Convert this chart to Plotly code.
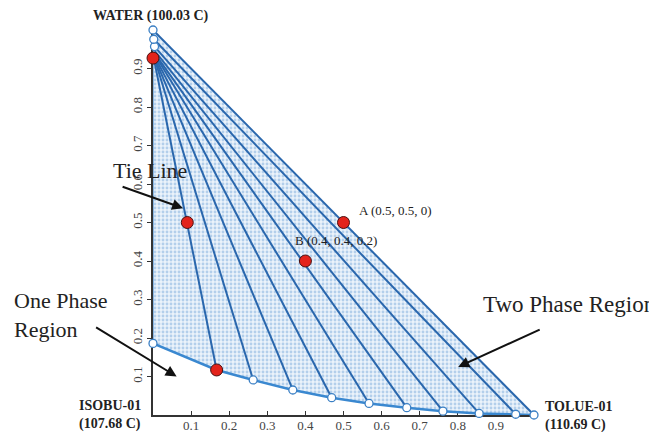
import plotly.graph_objects as go

# Organic-phase (toluene-rich) branch of the binodal curve, left to right
org_x = [0.0, 0.167, 0.263, 0.367, 0.469, 0.567, 0.666, 0.761, 0.856, 0.952, 1.0]
org_y = [0.186, 0.117, 0.091, 0.065, 0.045, 0.030, 0.019, 0.010, 0.004, 0.002, 0.0]

# Aqueous-phase (water-rich) ends of the tie lines, paired with org points 1..10
aq_x = [0.002, 0.003, 0.003, 0.003, 0.004, 0.004, 0.005, 0.004, 0.002, 0.0]
aq_y = [0.927, 0.929, 0.931, 0.934, 0.937, 0.940, 0.945, 0.957, 0.976, 1.0]

# Highlighted (red) points
red_x = [0.0, 0.09, 0.167, 0.5, 0.4]
red_y = [0.927, 0.50, 0.117, 0.5, 0.4]

tick_vals = [0.1, 0.2, 0.3, 0.4, 0.5, 0.6, 0.7, 0.8, 0.9]
tick_text = ["0.1", "0.2", "0.3", "0.4", "0.5", "0.6", "0.7", "0.8", "0.9"]

SERIF = "Liberation Serif"
fig = go.Figure()

# two-phase region fill
poly_x = org_x + [0.0, 0.0]
poly_y = org_y + [1.0, org_y[0]]
fig.add_trace(go.Scatter(
    x=poly_x, y=poly_y, mode="lines", fill="toself",
    fillcolor="#e6f0fa",
    fillpattern=dict(shape=".", fgcolor="#b3cfeb", bgcolor="#ebf3fb", size=4, solidity=0.4),
    line=dict(width=0), hoverinfo="skip", showlegend=False))

# y-axis boundary segment (light blue)
fig.add_trace(go.Scatter(x=[0.0, 0.0], y=[org_y[0], 1.0], mode="lines",
                         line=dict(color="#6fa6dc", width=1.5), showlegend=False, cliponaxis=False))

# tie lines
tx, ty = [], []
for i in range(len(aq_x)):
    tx += [aq_x[i], org_x[i + 1], None]
    ty += [aq_y[i], org_y[i + 1], None]
fig.add_trace(go.Scatter(x=tx, y=ty, mode="lines", line=dict(color="#2a67ad", width=2),
                         showlegend=False, cliponaxis=False))

# binodal organic branch
fig.add_trace(go.Scatter(x=org_x, y=org_y, mode="lines", line=dict(color="#3a88d0", width=2.5),
                         showlegend=False, cliponaxis=False))

# open circles
cx = [org_x[0]] + org_x[2:] + aq_x[-3:]
cy = [org_y[0]] + org_y[2:] + aq_y[-3:]
fig.add_trace(go.Scatter(x=cx, y=cy, mode="markers",
                         marker=dict(size=8, color="white", line=dict(color="#3a7fc4", width=1.3)),
                         showlegend=False, cliponaxis=False))

# red points
fig.add_trace(go.Scatter(x=red_x, y=red_y, mode="markers",
                         marker=dict(size=12, color="#e3231b", line=dict(color="#4a1010", width=1)),
                         showlegend=False, cliponaxis=False))

ann = []
def txt(x, y, text, size, bold=False, xanchor="left", align="left"):
    ann.append(dict(x=x, y=y, xref="paper", yref="paper", text=("<b>%s</b>" % text) if bold else text,
                    showarrow=False, xanchor=xanchor, yanchor="middle", align=align,
                    font=dict(family=SERIF, size=size, color="#222")))

txt(-0.004, 1.036, "WATER (100.03 C)", 14, bold=True, xanchor="center", align="center")
txt(-0.199, 0.0, "ISOBU-01<br>(107.68 C)", 14, bold=True)
txt(1.024, -0.003, "TOLUE-01<br>(110.69 C)", 14, bold=True)
txt(-0.008, 0.636, "Tie Line", 22, xanchor="center", align="center")
txt(-0.37, 0.26, "One Phase<br>Region", 22)
txt(0.862, 0.286, "Two Phase Region", 23)
txt(0.535, 0.531, "A (0.5, 0.5, 0)", 13)
txt(0.368, 0.453, "B (0.4, 0.4, 0.2)", 13)

def arrow(x, y, ax, ay):
    ann.append(dict(x=x, y=y, xref="paper", yref="paper", ax=ax, ay=ay, text="", showarrow=True,
                    arrowhead=2, arrowsize=1.1, arrowwidth=2, arrowcolor="#111"))

arrow(0.079, 0.537, -62, -22)
arrow(0.062, 0.100, -82, -50)
arrow(0.801, 0.125, 83, -38)

axis_common = dict(showgrid=False, zeroline=False, showline=True, linecolor="#333", linewidth=1.5,
                   tickvals=tick_vals, ticktext=tick_text, ticklen=4, tickcolor="#333",
                   tickfont=dict(family=SERIF, size=13, color="#444"), automargin=False,
                   layer="below traces")
# page body adds an 8px offset, so the figure is 8px smaller than the window
fig.update_layout(
    width=649, height=424, template="none",
    paper_bgcolor="white", plot_bgcolor="white",
    margin=dict(l=145, r=123, t=22, b=17),
    xaxis=dict(range=[0, 1], ticks="inside", ticklabelstandoff=-2, **axis_common),
    yaxis=dict(range=[0, 1], ticks="outside", tickangle=-90, **axis_common),
    annotations=ann, showlegend=False)

fig.write_html("out.html")
